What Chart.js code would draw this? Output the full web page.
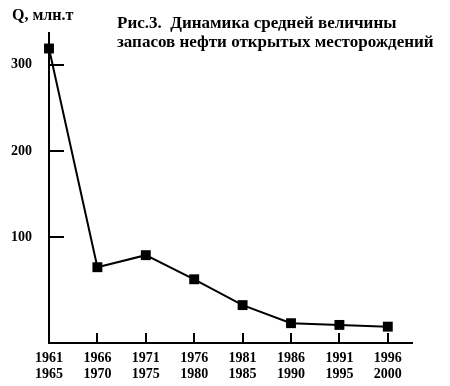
<!DOCTYPE html>
<html><head><meta charset="utf-8">
<script src="https://cdn.jsdelivr.net/npm/chart.js@4/dist/chart.umd.min.js"></script>
<style>
html,body{margin:0;padding:0;background:#fff;}
#wrap{position:relative;width:450px;height:386px;overflow:hidden;}
canvas{position:absolute;left:0;top:0;}
.t{position:absolute;font-family:"Liberation Serif","Times New Roman",serif;font-weight:bold;color:#000;white-space:nowrap;}
</style></head><body>
<div id="wrap">
<canvas id="c" width="450" height="386"></canvas>
<div class="t" id="yl" style="left:12px;top:6px;font-size:16px;">Q, млн.т</div>
<div class="t" id="title" style="left:117px;top:13px;font-size:17px;line-height:19px;">Рис.3.&nbsp; Динамика средней величины<br>запасов нефти открытых месторождений</div>
</div>
<script>
const periodStart = ["1961", "1966", "1971", "1976", "1981", "1986", "1991", "1996"];
const periodEnd   = ["1965", "1970", "1975", "1980", "1985", "1990", "1995", "2000"];
const reserves    = [319, 65, 79, 51, 21, 0, -2, -4];
const yTicks      = [100, 200, 300];

const FONT = {family: '"Liberation Serif", "Times New Roman", serif', weight: 'bold', size: 14, lineHeight: 1.1};

const innerTicks = {
  id: 'innerTicks',
  beforeDatasetsDraw(chart) {
    const ctx = chart.ctx, xs = chart.scales.x, ys = chart.scales.y;
    ctx.save();
    ctx.strokeStyle = '#000';
    ctx.lineWidth = 2;
    yTicks.forEach(v => {
      const py = Math.round(ys.getPixelForValue(v));
      ctx.beginPath(); ctx.moveTo(xs.left, py); ctx.lineTo(xs.left + 15, py); ctx.stroke();
    });
    periodStart.forEach((_, i) => {
      if (i === 0) return;
      const px = Math.round(xs.getPixelForValue(i));
      ctx.beginPath(); ctx.moveTo(px, ys.bottom); ctx.lineTo(px, ys.bottom - 10); ctx.stroke();
    });
    ctx.restore();
  }
};

new Chart(document.getElementById('c'), {
  type: 'line',
  data: {
    datasets: [{
      data: reserves.map((v, i) => ({x: i, y: v})),
      borderColor: '#000',
      borderWidth: 2,
      tension: 0,
      pointStyle: 'rect',
      pointRadius: 7,
      pointBackgroundColor: '#000',
      pointBorderWidth: 0,
      clip: false
    }]
  },
  options: {
    responsive: false,
    animation: false,
    events: [],
    layout: {padding: {top: 33, right: 38, left: 0, bottom: 0}},
    plugins: {legend: {display: false}, tooltip: {enabled: false}, title: {display: false}},
    scales: {
      x: {
        type: 'linear', min: 0, max: 7.5,
        afterBuildTicks: s => { s.ticks = periodStart.map((_, i) => ({value: i})); },
        afterFit: s => { s.height = 43; },
        ticks: {
          callback: v => [periodStart[v], periodEnd[v]],
          font: FONT, color: '#000', padding: 8, maxRotation: 0, autoSkip: false
        },
        grid: {display: false, drawTicks: false},
        border: {color: '#000', width: 2}
      },
      y: {
        type: 'linear', min: -23, max: 337,
        afterBuildTicks: s => { s.ticks = yTicks.map(v => ({value: v})); },
        afterFit: s => { s.width = 49; },
        ticks: {font: FONT, color: '#000', padding: 17},
        grid: {display: false, drawTicks: false},
        border: {color: '#000', width: 2}
      }
    }
  },
  plugins: [innerTicks]
});
</script>
</body></html>
